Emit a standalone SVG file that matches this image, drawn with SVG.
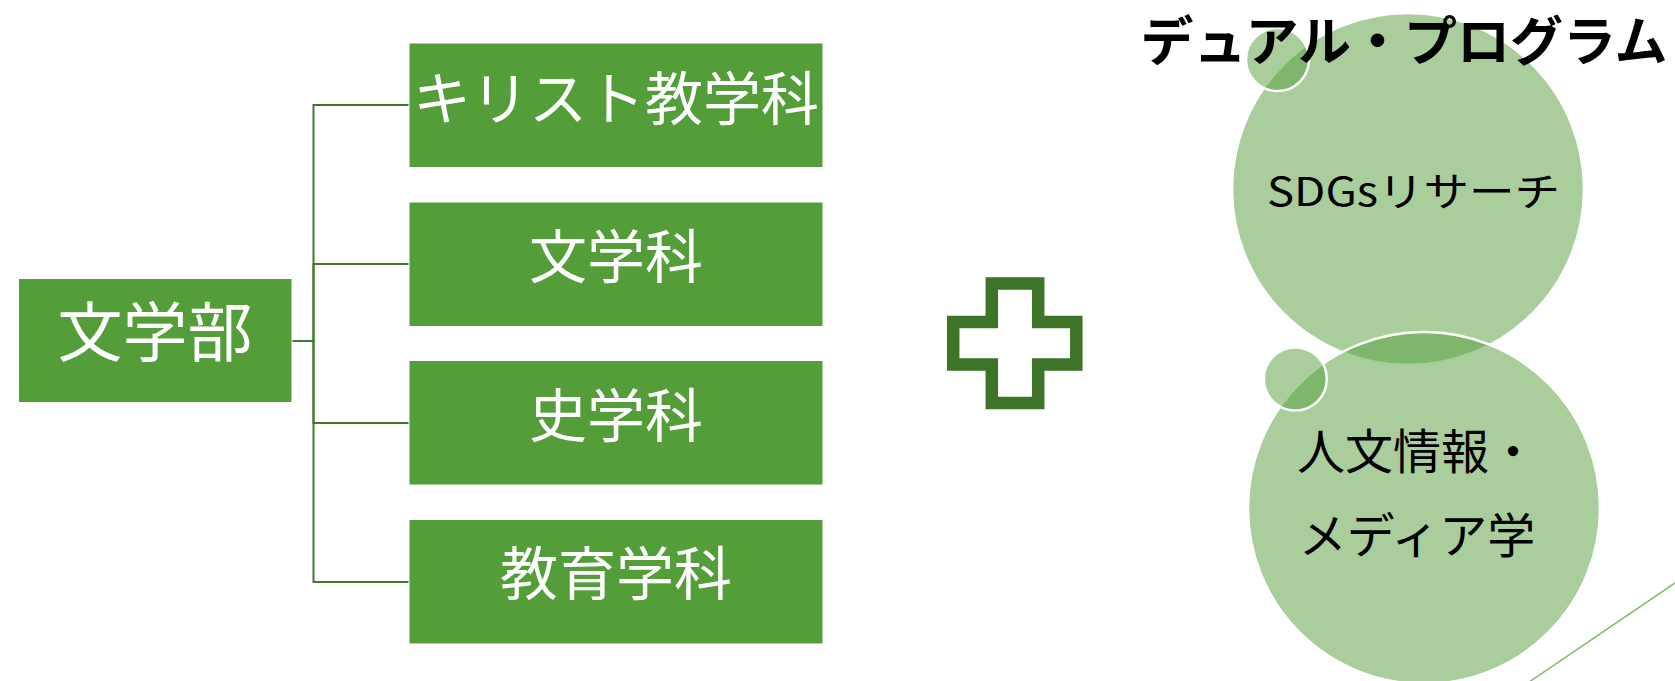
<svg xmlns="http://www.w3.org/2000/svg" width="1675" height="681" viewBox="0 0 1675 681">
<style>
.box{fill:#549E39;stroke:#ffffff;stroke-width:1}
.bt{font-family:"Noto Sans CJK JP","Noto Sans",sans-serif;font-weight:400;fill:#ffffff;text-anchor:middle}
.conn{fill:none;stroke:#3F7A2B;stroke-width:2}
.circ{fill:#549E39;fill-opacity:0.5;stroke:#ffffff;stroke-width:2.5}
.ct{font-family:"Noto Sans CJK JP","Noto Sans",sans-serif;font-weight:400;fill:#000000;text-anchor:middle}
</style>
<rect width="1675" height="681" fill="#ffffff"/>
<g id="connectors">
<path class="conn" d="M292,341 H313.5"/>
<path class="conn" d="M313.5,341 V105 H409"/>
<path class="conn" d="M313.5,341 V264 H409"/>
<path class="conn" d="M313.5,341 V423 H409"/>
<path class="conn" d="M313.5,341 V582 H409"/>
</g>
<g id="node-bungakubu">
<rect class="box" x="18.5" y="278.5" width="273.5" height="124"/>
<text class="bt" x="155" y="356" font-size="65">文学部</text>
</g>
<g id="node-christ">
<rect class="box" x="409" y="43" width="414" height="124.5"/>
<text class="bt" x="616" y="119.5" font-size="58" textLength="406" lengthAdjust="spacingAndGlyphs">キリスト教学科</text>
</g>
<g id="node-bungakuka">
<rect class="box" x="409" y="202" width="414" height="124.5"/>
<text class="bt" x="616" y="278" font-size="58">文学科</text>
</g>
<g id="node-shigakuka">
<rect class="box" x="409" y="360.5" width="414" height="124.5"/>
<text class="bt" x="616" y="437" font-size="58">史学科</text>
</g>
<g id="node-kyoiku">
<rect class="box" x="409" y="519.5" width="414" height="124.5"/>
<text class="bt" x="616" y="595" font-size="58">教育学科</text>
</g>
<g id="plus">
<path d="M991.8,283.5 H1038.2 V322 H1076.3 V364.5 H1038.2 V403 H991.8 V364.5 H953.2 V322 H991.8 Z" fill="none" stroke="#3E7428" stroke-width="12.5" stroke-linejoin="miter"/>
</g>
<g id="circle-sdgs">
<circle class="circ" cx="1408" cy="189" r="176"/>
<text class="ct" x="1413.5" y="206" font-size="40" textLength="293" lengthAdjust="spacingAndGlyphs">SDGsリサーチ</text>
</g>
<g id="dot-1">
<circle class="circ" cx="1277.5" cy="59.5" r="31.5"/>
</g>
<g id="circle-media">
<circle class="circ" cx="1424" cy="508" r="176"/>
<text class="ct" x="1417" y="469" font-size="48">人文情報・</text>
<text class="ct" x="1417" y="553" font-size="48">メディア学</text>
</g>
<g id="dot-2">
<circle class="circ" cx="1295.3" cy="379" r="31.5"/>
</g>
<g id="title">
<text x="1404" y="61" font-family="'Noto Sans CJK JP','Noto Sans',sans-serif" font-weight="700" font-size="53" text-anchor="middle" fill="#000000">デュアル・プログラム</text>
</g>
<line x1="1700" y1="566" x2="1510" y2="695" stroke="#84BB6E" stroke-width="1.5"/>
</svg>
